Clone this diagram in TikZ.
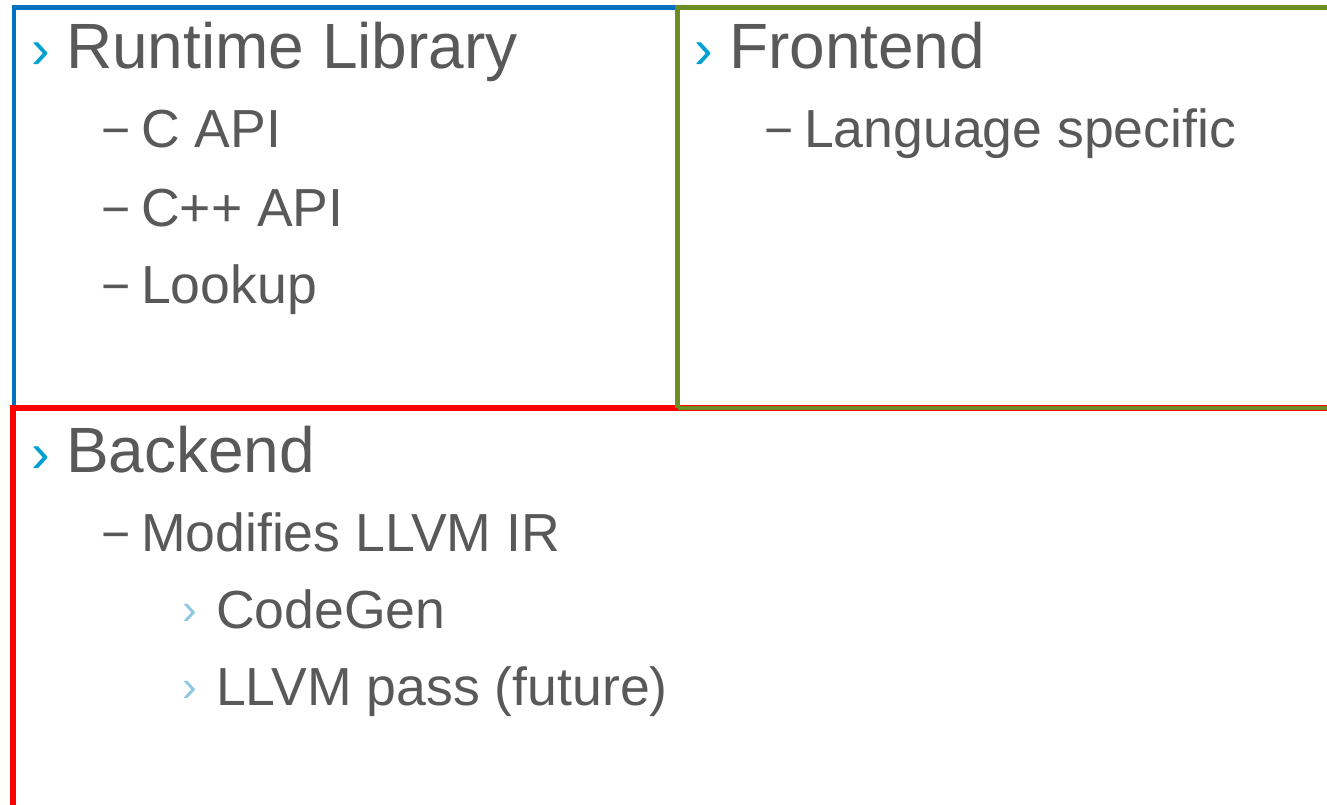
\documentclass[tikz,border=0pt]{standalone}
\usepackage{fontspec}
\setmainfont{Liberation Sans}
\definecolor{txtgray}{RGB}{89,89,89}
\definecolor{bulletA}{RGB}{0,160,210}
\definecolor{bulletC}{RGB}{140,200,225}
\definecolor{boxblue}{RGB}{0,112,192}
\definecolor{boxgreen}{RGB}{107,142,35}
\definecolor{boxred}{RGB}{255,0,0}
\begin{document}
\begin{tikzpicture}[x=1pt,y=-1pt,
  every node/.style={inner sep=0pt, outer sep=0pt, anchor=base west, text=txtgray},
  lvlone/.style={font=\fontsize{64}{64}\selectfont},
  lvltwo/.style={font=\fontsize{53.6}{54}\selectfont},
  lvlthree/.style={font=\fontsize{53.6}{54}\selectfont},
  bulone/.style={font=\fontsize{56}{56}\selectfont, text=bulletA},
  dashtwo/.style={font=\fontsize{50}{50}\selectfont},
  bulthree/.style={font=\fontsize{44}{44}\selectfont, text=bulletC},
  panel/.style={line width=4.5pt}]
\useasboundingbox (0,0) rectangle (1327,805);
\begin{scope}
\clip (0,0) rectangle (1327,805);
% panel frames
\draw[panel, boxblue] (14,7.5) rectangle (677.5,408);
\draw[panel, boxred, line width=6pt] (13,860) -- (13,408) -- (1400,408);
\draw[panel, boxgreen] (677.5,408) -- (677.5,7.5) -- (1400,7.5);
\draw[panel, boxgreen] (677.5,408) -- (1400,408);
\end{scope}

% runtime library panel
\node[bulone] (rb) at (31,69) {›};
\node[lvlone] (rt) at (66,69) {Runtime Library};
\node[dashtwo] (rd1) at (101,148) {−};
\node[lvltwo] (r1) at (141,148) {C API};
\node[dashtwo] (rd2) at (101,226) {−};
\node[lvltwo] (r2) at (141,226) {C++ API};
\node[dashtwo] (rd3) at (101,303) {−};
\node[lvltwo] (r3) at (141,303) {Lookup};

% frontend panel
\node[bulone] (fb) at (694,69) {›};
\node[lvlone] (ft) at (729,69) {Frontend};
\node[dashtwo] (fd1) at (764,148) {−};
\node[lvltwo] (f1) at (804,148) {Language specific};

% backend panel
\node[bulone] (bb) at (31,472) {›};
\node[lvlone] (bt) at (66,472) {Backend};
\node[dashtwo] (bd1) at (101,551) {−};
\node[lvltwo] (b1) at (141,551) {Modifies LLVM IR};
\node[bulthree] (bs1) at (182,624) {›};
\node[lvlthree] (b2) at (216,628) {CodeGen};
\node[bulthree] (bs2) at (182,701) {›};
\node[lvlthree] (b3) at (216,705) {LLVM pass (future)};
\end{tikzpicture}
\end{document}
